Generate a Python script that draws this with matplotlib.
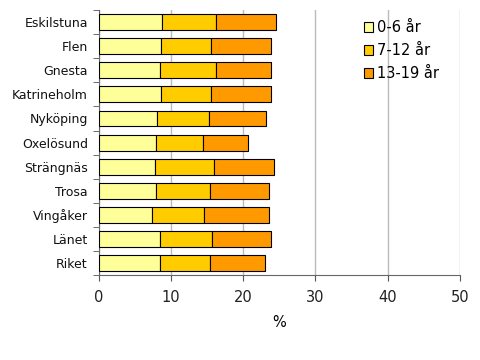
import matplotlib
matplotlib.use("Agg")
import matplotlib.pyplot as plt
import numpy as np

# andel barn per åldersgrupp (%)
kommuner = ["Eskilstuna", "Flen", "Gnesta", "Katrineholm", "Nyköping", "Oxelösund",
            "Strängnäs", "Trosa", "Vingåker", "Länet", "Riket"]
age_0_6 = [8.8, 8.6, 8.4, 8.6, 8.1, 7.9, 7.8, 7.9, 7.4, 8.4, 8.4]
age_7_12 = [7.4, 7.0, 7.8, 7.0, 7.2, 6.5, 8.1, 7.5, 7.1, 7.3, 7.0]
age_13_19 = [8.3, 8.3, 7.7, 8.3, 7.8, 6.2, 8.3, 8.2, 9.0, 8.1, 7.6]

labels = ["0-6 år", "7-12 år", "13-19 år"]
colors = ["#FFFF99", "#FFCC00", "#FF9900"]

fig = plt.figure(figsize=(4.8, 3.6), dpi=100)
ax = fig.add_axes([0.206, 0.236, 0.752, 0.736])

y = np.arange(len(kommuner))
left = np.zeros(len(kommuner))
for vals, lab, col in zip([age_0_6, age_7_12, age_13_19], labels, colors):
    ax.barh(y, vals, left=left, height=0.66, color=col, edgecolor="black",
            linewidth=0.8, label=lab, zorder=3)
    left += np.array(vals)

ax.set_ylim(len(kommuner) - 0.5, -0.5)
ax.set_xlim(0, 50)
ax.set_xticks(range(0, 51, 10))
ax.set_yticks(y)
ax.set_yticklabels(kommuner, fontsize=9, color="#111111")
ax.set_yticks(np.arange(-0.5, len(kommuner), 1), minor=True)
ax.tick_params(axis="y", which="major", length=0, pad=8)
ax.tick_params(axis="y", which="minor", length=4, color="#555555")
ax.tick_params(axis="x", labelsize=10.5, length=4, pad=7, color="#555555",
               colors="#222222")
ax.set_xlabel("%", fontsize=10.5, labelpad=7)

ax.grid(axis="x", color="#bbbbbb", linewidth=1, zorder=0)
for s in ["top", "right"]:
    ax.spines[s].set_visible(False)
for s in ["left", "bottom"]:
    ax.spines[s].set_color("#666666")

ax.legend(loc="upper left", bbox_to_anchor=(0.71, 0.995), frameon=False,
          fontsize=10.5, handlelength=0.6, handleheight=0.6, handletextpad=0.3,
          labelspacing=0.55, borderaxespad=0.2)

fig.savefig("out.png", dpi=100)
